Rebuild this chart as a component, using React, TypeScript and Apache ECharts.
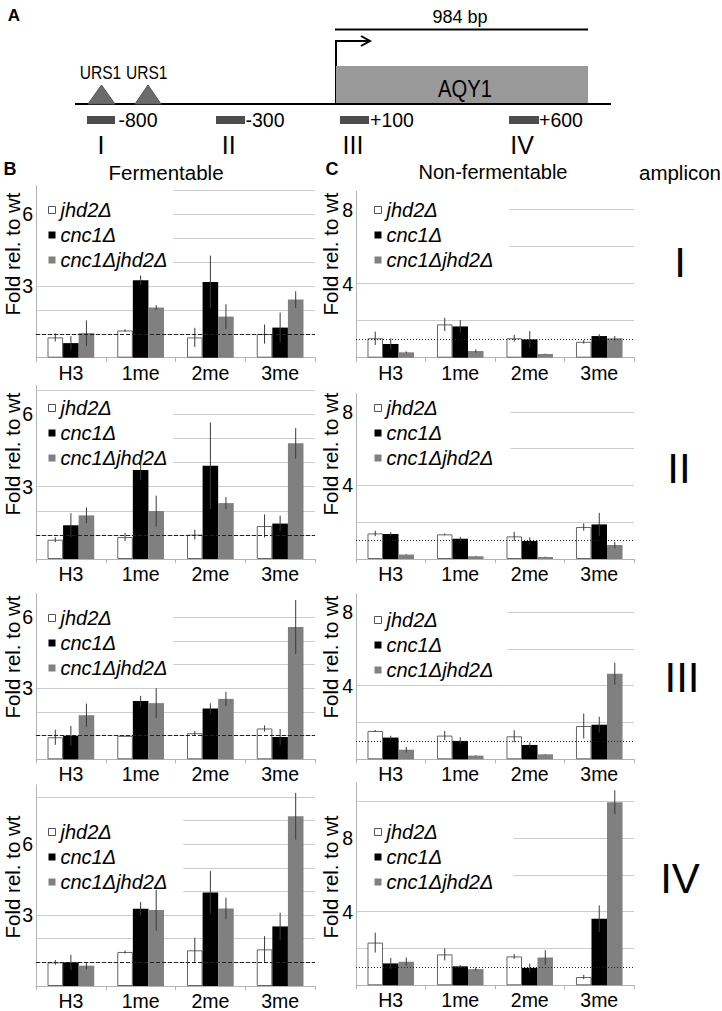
import React, { useEffect, useRef } from 'react';
import * as echarts from 'echarts';

const categories = ['H3', '1me', '2me', '3me'];
const strains = ['jhd2Δ', 'cnc1Δ', 'cnc1Δjhd2Δ'];
const amplicons = ['I', 'II', 'III', 'IV'];

// Panel B – Fermentable (rows: jhd2Δ, cnc1Δ, cnc1Δjhd2Δ; columns: H3, 1me, 2me, 3me)
const fermI_val = [[0.85, 1.14, 0.85, 0.99], [0.61, 3.24, 3.17, 1.26], [1.03, 2.1, 1.72, 2.43]];
const fermI_err = [[0.17, 0.05, 0.4, 0.4], [0.29, 0.2, 1.1, 0.63], [0.53, 0.1, 0.52, 0.35]];
const fermII_val = [[0.8, 0.91, 1.01, 1.37], [1.4, 3.69, 3.87, 1.47], [1.81, 1.99, 2.32, 4.8]];
const fermII_err = [[0.1, 0.17, 0.2, 0.48], [0.5, 0.4, 1.8, 0.33], [0.33, 0.64, 0.25, 0.63]];
const fermIII_val = [[0.93, 0.99, 1.1, 1.3], [0.99, 2.46, 2.14, 0.94], [1.86, 2.37, 2.55, 5.58]];
const fermIII_err = [[0.32, 0, 0.1, 0.13], [0.42, 0.22, 0.22, 0.34], [0.49, 0.63, 0.3, 1.14]];
const fermIV_val = [[1.0, 1.44, 1.51, 1.55], [1.0, 3.27, 3.96, 2.52], [0.86, 3.21, 3.28, 7.18]];
const fermIV_err = [[0.1, 0.06, 0.53, 0.56], [0.32, 0.28, 0.9, 0.58], [0.15, 0.86, 0.46, 0.99]];

// Panel C – Non-fermentable
const nonI_val = [[1.05, 1.8, 1.05, 0.86], [0.74, 1.69, 0.99, 1.17], [0.29, 0.36, 0.2, 1.05]];
const nonI_err = [[0.36, 0.36, 0.18, 0.1], [0.3, 0.34, 0.45, 0.1], [0.05, 0.09, 0.02, 0.12]];
const nonII_val = [[1.39, 1.34, 1.23, 1.74], [1.36, 1.1, 0.98, 1.88], [0.24, 0.15, 0.11, 0.76]];
const nonII_err = [[0.15, 0.05, 0.25, 0.2], [0.1, 0.1, 0.2, 0.63], [0.02, 0.02, 0.02, 0.18]];
const nonIII_val = [[1.54, 1.29, 1.25, 1.81], [1.18, 1.0, 0.78, 1.88], [0.52, 0.2, 0.27, 4.65]];
const nonIII_err = [[0.05, 0.25, 0.33, 0.68], [0.1, 0.2, 0.15, 0.43], [0.15, 0.02, 0.02, 0.6]];
const nonIV_val = [[2.32, 1.68, 1.57, 0.45], [1.19, 1.03, 0.95, 3.62], [1.28, 0.88, 1.51, 9.95]];
const nonIV_err = [[0.54, 0.33, 0.13, 0.12], [0.3, 0.07, 0.23, 0.72], [0.23, 0.09, 0.4, 0.65]];

const yMaxB = [7.2, 7.2, 7, 8.5];
const yMaxC = [9, 9, 9, 11];
const yLabelsB = [3, 6];
const yLabelsC = [4, 8];

// ---------- layout / style ----------
const FONT = 'Liberation Sans, Arial, Helvetica, sans-serif';
const colLeft = [36, 356];
const colWidth = [279, 278];
const baseline = [[357.7, 559, 759.3, 986.5], [357.7, 559, 759.3, 985.3]];
const ppu = [[23.9, 24.1, 23.7, 23.7], [18.5, 18.4, 18.4, 18.4]];
const legLeft = [37, 357];
const legPadL = [11, 17];
const legTop = [[188, 393, 596, 805], [192, 394, 595, 805]];
const legPadT = [[11, 4, 11, 16], [7, 3, 14, 16]];
const legPadR = [[6, 6, 6, 16], [16, 17, 14, 20]];
const barFrac = 0.2233;
const barColors = ['#ffffff', '#000000', '#808080'];
const barBorders = ['#666666', '#000000', '#808080'];

const panels = [
  { col: 0, row: 0, val: fermI_val, err: fermI_err },
  { col: 0, row: 1, val: fermII_val, err: fermII_err },
  { col: 0, row: 2, val: fermIII_val, err: fermIII_err },
  { col: 0, row: 3, val: fermIV_val, err: fermIV_err },
  { col: 1, row: 0, val: nonI_val, err: nonI_err },
  { col: 1, row: 1, val: nonII_val, err: nonII_err },
  { col: 1, row: 2, val: nonIII_val, err: nonIII_err },
  { col: 1, row: 3, val: nonIV_val, err: nonIV_err },
];

function txt(x: number, y: number, text: string, size: number, o: any = {}) {
  return {
    type: 'text',
    x,
    y,
    rotation: o.rot || 0,
    scaleX: o.sx || 1,
    z: 20,
    style: {
      text,
      x: 0,
      y: 0,
      fontSize: size,
      fontFamily: FONT,
      fontWeight: o.bold ? 'bold' : 'normal',
      fontStyle: o.italic ? 'italic' : 'normal',
      fill: '#000',
      textAlign: 'center',
      textVerticalAlign: 'middle',
      align: 'center',
      verticalAlign: 'middle',
    },
  };
}

function buildOption() {
  const grid: any[] = [];
  const xAxis: any[] = [];
  const yAxis: any[] = [];
  const series: any[] = [];
  const legend: any[] = [];

  panels.forEach((p, i) => {
    const c = p.col;
    const r = p.row;
    const max = c === 0 ? yMaxB[r] : yMaxC[r];
    const h = max * ppu[c][r];
    const top = baseline[c][r] - h;
    grid.push({ left: colLeft[c], top, width: colWidth[c], height: h });
    xAxis.push({
      gridIndex: i,
      type: 'category',
      data: categories,
      axisLine: { lineStyle: { color: '#b4b4b4', width: 1 } },
      axisTick: { show: true, length: 4, lineStyle: { color: '#b4b4b4' } },
      axisLabel: { color: '#000', fontSize: 19.5, fontFamily: FONT, margin: 5 },
    });
    const labs = c === 0 ? yLabelsB : yLabelsC;
    yAxis.push({
      gridIndex: i,
      type: 'value',
      min: 0,
      max,
      interval: c === 0 ? 1 : 2,
      axisLine: { show: true, lineStyle: { color: '#b4b4b4', width: 1 } },
      axisTick: { show: false },
      splitLine: { show: true, showMaxLine: false, lineStyle: { color: '#cccccc', width: 1 } },
      axisLabel: {
        color: '#000',
        fontSize: 19.5,
        fontFamily: FONT,
        margin: 3,
        formatter: (v: number) => (labs.indexOf(v) >= 0 ? String(v) : ''),
      },
    });
    strains.forEach((s, k) => {
      series.push({
        type: 'bar',
        name: s,
        xAxisIndex: i,
        yAxisIndex: i,
        data: p.val[k],
        barWidth: '22.33%',
        barGap: '0%',
        itemStyle: { color: barColors[k], borderColor: barBorders[k], borderWidth: k === 0 ? 1 : 0 },
        emphasis: { disabled: true },
        silent: true,
      });
    });
    strains.forEach((s, k) => {
      series.push({
        type: 'custom',
        name: 'err-' + s,
        xAxisIndex: i,
        yAxisIndex: i,
        z: 3,
        silent: true,
        data: p.val[k].map((v, j) => [j, v, p.err[k][j]]),
        renderItem: (params: any, api: any) => {
          const cat = api.value(0);
          const v = api.value(1);
          const e = api.value(2);
          if (!e) return null;
          const band = api.size([1, 0])[0];
          const x = api.coord([cat, 0])[0] + (k - 1) * band * barFrac;
          const y1 = api.coord([cat, v + e])[1];
          const y2 = api.coord([cat, Math.max(0, v - e)])[1];
          return {
            type: 'line',
            shape: { x1: x, y1, x2: x, y2 },
            style: { stroke: '#3a3a3a', lineWidth: 1 },
          };
        },
        markLine:
          k === 2
            ? {
                silent: true,
                symbol: ['none', 'none'],
                label: { show: false },
                lineStyle: { color: '#222', width: 1, type: c === 0 ? [4, 2] : [1, 2] },
                data: [{ yAxis: 1 }],
              }
            : undefined,
      });
    });
    legend.push({
      orient: 'vertical',
      left: legLeft[c],
      top: legTop[c][r],
      padding: [legPadT[c][r], legPadR[c][r], 2, legPadL[c]],
      backgroundColor: '#ffffff',
      z: 1,
      selectedMode: false,
      icon: 'rect',
      itemWidth: 7,
      itemHeight: 7,
      itemGap: 3,
      itemStyle: { borderWidth: 0 },
      textStyle: { fontSize: 20, fontStyle: 'italic', fontFamily: FONT, color: '#000', lineHeight: 22 },
      data: [
        { name: strains[0], itemStyle: { color: '#fff', borderColor: '#555', borderWidth: 1 } },
        { name: strains[1] },
        { name: strains[2] },
      ],
    });
  });

  const rowCenters = [254, 454, 657, 877];
  const graphic: any[] = [
    // gene diagram
    { type: 'line', shape: { x1: 75, y1: 104, x2: 611, y2: 104 }, style: { stroke: '#000', lineWidth: 2 } },
    { type: 'rect', shape: { x: 336, y: 66, width: 252, height: 37 }, style: { fill: '#999999' }, z: 2 },
    { type: 'polyline', shape: { points: [[336, 104], [336, 41], [369, 41]] }, style: { stroke: '#000', lineWidth: 2, fill: null } },
    { type: 'polyline', shape: { points: [[361, 36], [370, 41], [361, 46]] }, style: { stroke: '#000', lineWidth: 2, fill: null } },
    { type: 'line', shape: { x1: 335, y1: 29.5, x2: 588, y2: 29.5 }, style: { stroke: '#000', lineWidth: 2 } },
    { type: 'polygon', shape: { points: [[88, 104], [101.5, 85], [115, 104]] }, style: { fill: '#6b6b6b', stroke: '#555', lineWidth: 1 } },
    { type: 'polygon', shape: { points: [[135, 104], [148, 85], [161, 104]] }, style: { fill: '#6b6b6b', stroke: '#555', lineWidth: 1 } },
    { type: 'rect', shape: { x: 87, y: 116, width: 28, height: 8 }, style: { fill: '#4d4d4d' } },
    { type: 'rect', shape: { x: 216, y: 116, width: 29, height: 8 }, style: { fill: '#4d4d4d' } },
    { type: 'rect', shape: { x: 340, y: 116, width: 29, height: 8 }, style: { fill: '#4d4d4d' } },
    { type: 'rect', shape: { x: 509, y: 116, width: 30, height: 8 }, style: { fill: '#4d4d4d' } },
    txt(14, 15, 'A', 17, { bold: true }),
    txt(460, 16.5, '984 bp', 18),
    txt(465, 89, 'AQY1', 23, { sx: 0.88 }),
    txt(100.5, 72, 'URS1', 19, { sx: 0.82 }),
    txt(146.7, 72, 'URS1', 19, { sx: 0.82 }),
    txt(138, 120, '-800', 19.5),
    txt(265, 120, '-300', 19.5),
    txt(392, 120, '+100', 19.5),
    txt(561, 120, '+600', 19.5),
    txt(101, 145, amplicons[0], 25),
    txt(228.7, 145, amplicons[1], 25),
    txt(353, 145, amplicons[2], 25),
    txt(522, 145, amplicons[3], 25),
    txt(10, 168.5, 'B', 18, { bold: true }),
    txt(332, 168.5, 'C', 18, { bold: true }),
    txt(166, 172, 'Fermentable', 20.5),
    txt(493, 172, 'Non-fermentable', 20),
    txt(680, 172, 'amplicon', 20.5),
    txt(680, 262, amplicons[0], 42),
    txt(679, 468, amplicons[1], 42),
    txt(682, 677, amplicons[2], 42),
    txt(680, 878, amplicons[3], 42),
  ];
  rowCenters.forEach((yc) => {
    graphic.push(txt(12, yc, 'Fold rel. to wt', 20.5, { rot: Math.PI / 2 }));
    graphic.push(txt(330, yc, 'Fold rel. to wt', 20.5, { rot: Math.PI / 2 }));
  });

  return {
    animation: false,
    backgroundColor: '#ffffff',
    textStyle: { fontFamily: FONT },
    grid,
    xAxis,
    yAxis,
    series,
    legend,
    graphic,
  };
}

export default function App() {
  const ref = useRef<HTMLDivElement>(null);
  useEffect(() => {
    document.body.style.margin = '0';
    const chart = echarts.init(ref.current as HTMLDivElement, null, { renderer: 'svg' });
    chart.setOption(buildOption() as any);
    return () => chart.dispose();
  }, []);
  return <div ref={ref} style={{ width: 722, height: 1011 }} />;
}
